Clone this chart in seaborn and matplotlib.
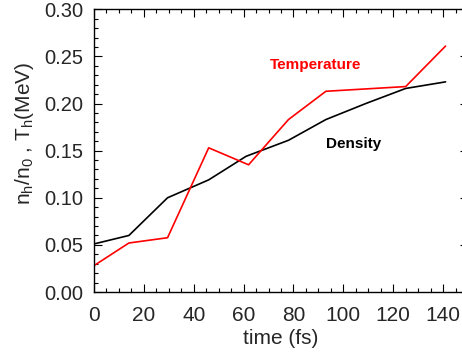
import matplotlib
matplotlib.use("Agg")
import matplotlib.pyplot as plt
import seaborn as sns
import pandas as pd
from matplotlib.ticker import MultipleLocator

time_fs = [0, 14, 29.5, 46, 61, 78, 93, 109, 125, 141]
density = [0.051, 0.060, 0.100, 0.119, 0.144, 0.161, 0.183, 0.200, 0.216, 0.223]
temp_time = [0, 14, 29.5, 46, 62, 78, 93, 125, 141]
temperature = [0.028, 0.052, 0.0576, 0.153, 0.135, 0.183, 0.213, 0.218, 0.261]

sns.set_style("ticks")
plt.rcParams['font.family'] = ['Liberation Sans', 'DejaVu Sans']
plt.rcParams['mathtext.default'] = 'regular'

fig = plt.figure(figsize=(4.62, 3.52), dpi=100)
W, H = 462, 352
ax = fig.add_axes([94 / W, (H - 292) / H, (468 - 94) / W, (292 - 9.3) / H])

df_d = pd.DataFrame({"t": time_fs, "v": density})
df_t = pd.DataFrame({"t": temp_time, "v": temperature})
sns.lineplot(data=df_d, x="t", y="v", ax=ax, color="black", lw=1.2, sort=False)
sns.lineplot(data=df_t, x="t", y="v", ax=ax, color="#ff0000", lw=1.2, sort=False)

ax.set_xlim(0, 150)
ax.set_ylim(0, 0.30)
ax.xaxis.set_major_locator(MultipleLocator(20))
ax.xaxis.set_minor_locator(MultipleLocator(5))
ax.yaxis.set_major_locator(MultipleLocator(0.05))
ax.yaxis.set_minor_locator(MultipleLocator(0.01))
ax.yaxis.set_major_formatter(matplotlib.ticker.FormatStrFormatter('%.2f'))
ax.tick_params(which='both', direction='in', top=True, right=True, width=0.8, color='black')
ax.tick_params(which='major', length=6)
ax.tick_params(which='minor', length=3)
ax.tick_params(axis='x', which='major', labelsize=15, pad=10)
ax.tick_params(axis='y', which='major', labelsize=14.5, pad=8)
for s in ax.spines.values():
    s.set_linewidth(1.0)
    s.set_color('black')

ax.set_xlabel("time (fs)", fontsize=15, labelpad=3)
ax.set_ylabel(r"n$_\mathregular{h}$/n$_\mathregular{0}$ , T$_\mathregular{h}$(MeV)", fontsize=15,
              va='center')
ax.yaxis.set_label_coords(-0.187, 0.562)

ax.text(88.7, 0.241, "Temperature", color="#ff0000", fontsize=11, fontweight='bold', ha='center', va='center')
ax.text(104, 0.157, "Density", color="black", fontsize=11, fontweight='bold', ha='center', va='center')

fig.savefig("out.png", dpi=100)
